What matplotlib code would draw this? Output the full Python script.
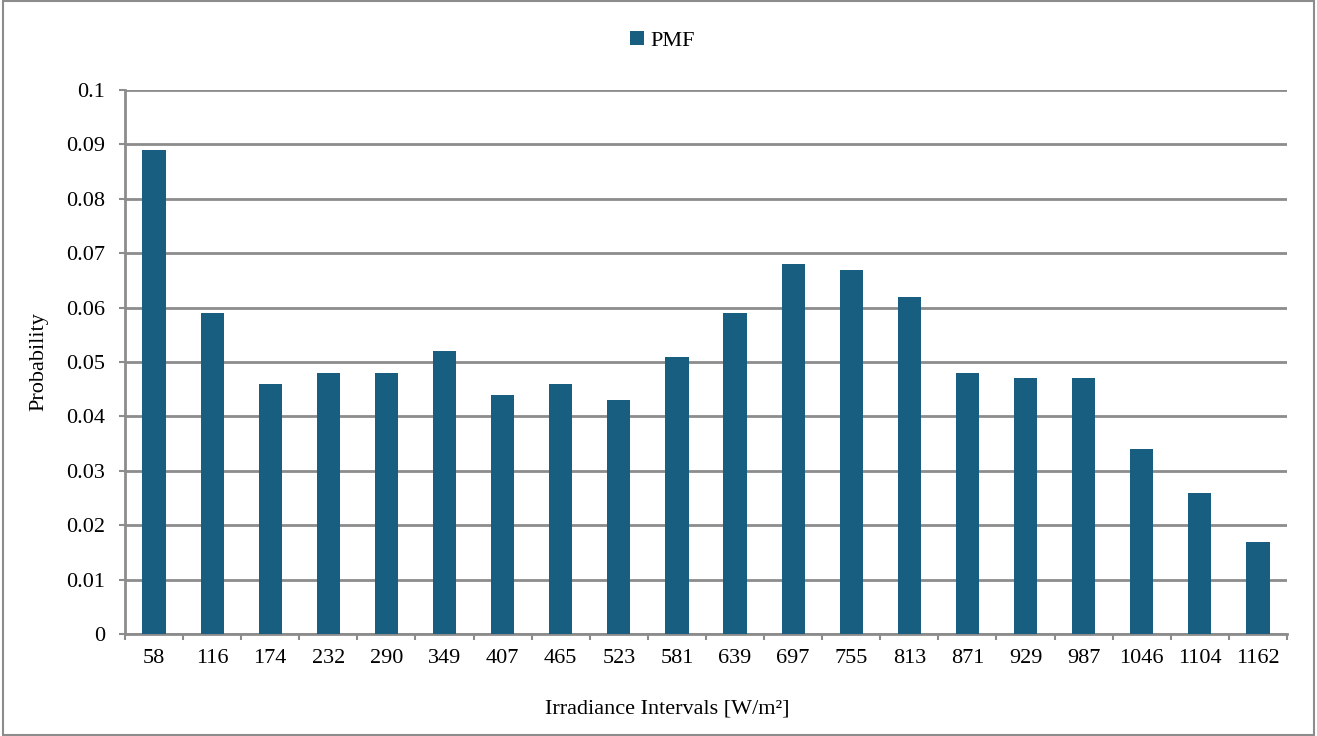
import numpy as np
import matplotlib.pyplot as plt
from matplotlib.patches import Rectangle

# irradiance bins (upper edge, W/m2) and their probability mass
intervals = ['58', '116', '174', '232', '290', '349', '407', '465', '523', '581',
             '639', '697', '755', '813', '871', '929', '987', '1046', '1104', '1162']
pmf = [0.089, 0.059, 0.046, 0.048, 0.048, 0.052, 0.044, 0.046, 0.043, 0.051,
       0.059, 0.068, 0.067, 0.062, 0.048, 0.047, 0.047, 0.034, 0.026, 0.017]

plt.rcParams['font.family'] = ['Liberation Serif', 'DejaVu Serif']
plt.rcParams['font.size'] = 16

bar_color = '#175e80'
grid_color = '#8c8c8c'

fig = plt.figure(figsize=(13.17, 7.36), dpi=100)
ax = fig.add_axes([0.0949, 0.1386, 0.8823, 0.7391])

x = np.arange(len(intervals))
ax.bar(x, pmf, width=0.4, color=bar_color, label='PMF', zorder=3)

ax.set_xlim(-0.5, len(intervals) - 0.5)
ax.set_ylim(0, 0.1)
ax.set_yticks(np.arange(0, 0.101, 0.01))
ax.set_yticklabels(['0'] + ['%g' % round(v, 2) for v in np.arange(0.01, 0.101, 0.01)])
ax.yaxis.grid(True, color=grid_color, linewidth=2, zorder=0)

# category labels at bar centres, tick marks on the bin boundaries
ax.set_xticks(x)
ax.set_xticklabels(intervals)
ax.set_xticks(np.arange(-0.5, len(intervals)), minor=True)
ax.tick_params(axis='x', which='major', length=0, pad=11)
ax.tick_params(axis='x', which='minor', length=4.5, width=1.5, color=grid_color)
ax.tick_params(axis='y', length=4.5, width=1.5, color=grid_color, pad=10)

for side in ['top', 'right']:
    ax.spines[side].set_visible(False)
for side in ['left', 'bottom']:
    ax.spines[side].set_color(grid_color)
    ax.spines[side].set_linewidth(2)

ax.set_ylabel('Probability')
ax.set_xlabel('Irradiance Intervals [W/m²]')
ax.yaxis.set_label_coords(-0.0663, 0.5)
ax.xaxis.set_label_coords(0.467, -0.121)

fig.legend(loc='center', bbox_to_anchor=(0.503, 0.944), frameon=False,
           handlelength=0.6, handleheight=0.6, handletextpad=0.3)

# outer chart border
fig.patches.append(Rectangle((0.002, 0.002), 0.996, 0.996, transform=fig.transFigure,
                             fill=False, edgecolor='#8c8c8c', linewidth=1.5))

fig.savefig('out.png', dpi=100)
